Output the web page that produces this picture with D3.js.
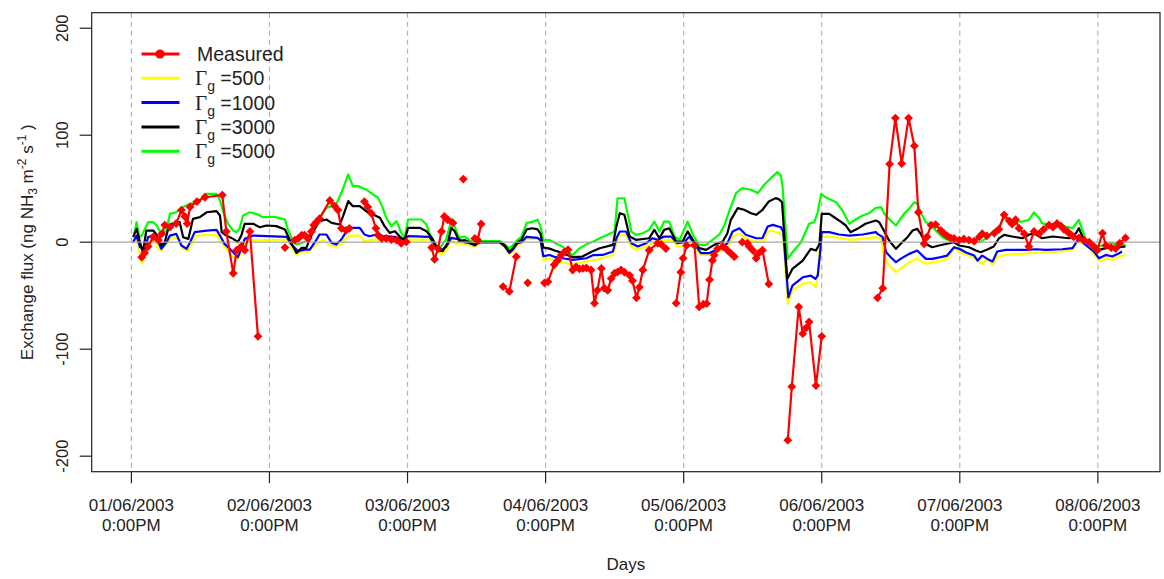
<!DOCTYPE html>
<html>
<head>
<meta charset="utf-8">
<script src="https://cdn.jsdelivr.net/npm/d3@7/dist/d3.min.js"></script>
<style>
  body { margin: 0; background: #fff; }
  svg { display: block; font-family: "Liberation Sans", Arial, sans-serif; }
</style>
</head>
<body>
<svg id="chart" width="1164" height="579"></svg>
<script>
// Time axis: hours after 01/06/2003 12:00
const dayTicks = [0, 24, 48, 72, 96, 120, 144, 168];
const dayLabels = ["01/06/2003", "02/06/2003", "03/06/2003", "04/06/2003",
                   "05/06/2003", "06/06/2003", "07/06/2003", "08/06/2003"];
const timeLabel = "0:00PM";
const fluxTicks = [-200, -100, 0, 100, 200];

// Measured NH3 exchange flux [hour, flux]; null marks a gap in the record
const measured = [
  [1.8,-14],[2.3,-10],[2.9,-4],[3.8,5],[4.7,2],[5.3,8],[5.8,16],[6.7,14],[7.8,17.5],[8.7,30],
  [9.3,24],[9.7,17.5],[10.2,33],[11.4,38],[12.8,42],[15.8,44],[16.5,10],[17.7,-29],[18.3,-7.5],
  [19.1,-4],[19.7,-7.5],[20.6,10],[22.0,-88],
  [24,null],
  [26.7,-5],
  [27.5,null],
  [28.4,2],[29.0,3.5],[29.6,6.6],[30.1,6.6],[30.7,3.5],[31.3,10],[31.7,16],[32.2,19],[32.7,22],
  [34.5,39],[35.3,34],[35.9,30],[36.5,13],[37.3,11],[37.9,13],
  [39,null],
  [40.5,38],[41.1,33],[41.7,27],[42.5,13],[42.9,6.6],[43.5,3.5],[44.3,3.5],[45.2,2.5],[46.1,2],
  [46.9,-1],[47.8,0.3],
  [50,null],
  [52.2,-5],[52.7,-16],[53.3,-6],[53.9,10],[54.4,24],[55.0,21],[55.9,18],
  [57,null],
  [57.7,59],
  [58.5,null],
  [59.7,3.5],[60.2,2],[60.8,17],
  [62,null],
  [64.6,-41.5],[65.7,-46],[66.9,-13.5],
  [68,null],
  [68.9,-38],
  [70,null],
  [71.8,-38],[72.4,-37],[73.5,-21],[74.1,-17],[74.7,-12],[75.3,-9],[75.9,-7],[76.7,-26],[77.3,-23],
  [77.9,-25],[78.5,-24.5],[79.1,-24],[79.9,-26],[80.5,-57],[81.0,-45],[81.7,-24.5],[82.2,-43],
  [82.8,-45],[83.4,-34],[84.0,-29],[84.5,-28],[85.1,-26],[85.7,-28],[86.6,-31],[87.1,-36],
  [87.8,-52],[88.3,-42],[88.9,-26],[90.0,-7.5],[91.5,-1],[92.1,-2],[92.9,-6],
  [93.5,null],
  [94.7,-57],[95.5,-28],[95.9,-15],[96.5,-3],[97.9,-3],[98.7,-60.5],[99.4,-58],[100.0,-57.5],
  [100.5,-35],[101.0,-17],[101.3,-12],[101.9,-6],[102.8,-4],[103.6,-7.5],[104.2,-10.5],[104.8,-13.5],
  [105.5,null],
  [106.2,0],[107.1,-1],[107.4,-4],[108.0,-7.5],[108.6,-15],[109.1,-10],[109.7,-7.5],[110.8,-39],
  [112,null],
  [114.1,-185],[114.8,-135],[116.0,-60.5],[116.7,-85.5],[117.3,-80],[117.8,-74.5],[119.0,-134],[120.0,-88],
  [125,null],
  [129.7,-52],[130.6,-43],[131.8,73],[132.8,116],[133.9,73.5],[135.1,116],[136.1,90],[136.8,28],
  [137.8,-1.5],[138.3,5],[139.0,16],[139.8,16.5],[140.7,11],[141.3,8],[141.8,6],[142.4,4],[143.0,3.5],
  [143.9,2],[144.7,3],[145.6,2],[146.5,1],[147.4,5],[147.9,8],[148.7,6],[150.0,8.4],[150.8,12],
  [151.7,25.6],[152.6,20],[153.1,17],[153.7,21],[154.3,13],[155.2,8],[156.0,-4],[156.9,10],[157.8,8],
  [158.6,12],[159.5,16],[160.2,14],[160.9,17.5],[161.6,15],[162.1,12],[162.7,10],[163.3,7],[163.8,5],
  [164.7,4],[165.6,2],[166.5,0],[167.3,-4],[167.9,-7.5],[168.8,8.4],[169.4,-3],[170.3,-5],[171.1,-6],
  [171.8,-1],[172.8,4]
];

// Modelled flux for stomatal compensation parameter Γg = 500
const gamma500 = [
  [0.3,-1.6],[0.9,3.1],[1.8,-20],[2.3,-14],[2.9,-6.2],[3.8,3.1],[4.7,-6.2],[5.2,-7.8],[6.1,-1.6],
  [7.0,4.7],[8.1,3.1],[9.0,-6.2],[9.9,-7.8],[10.5,-1.6],[11.3,6.2],[14.8,6.9],[15.4,1.6],[16.5,-6.2],
  [17.7,-14],[18.5,-15.6],[19.4,-7.8],[20.0,1.6],[27.0,2.5],[28.7,-11.5],[29.8,-8.4],[30.7,-9.4],
  [32.2,-2.2],[33.3,2.5],[34.5,-3.1],[35.6,-3.7],[36.5,-2.2],[37.1,3.1],[38.2,6.2],[39.7,6.2],
  [40.5,0.9],[42.0,2.5],[44.9,2.5],[46.1,0.9],[48.1,2.5],[51.8,2.5],[53.0,-5.3],[53.9,-11.5],
  [54.7,-8.4],[55.6,2.5],[56.4,-2],[57.0,-1],[57.9,-2],[58.8,-3],[59.7,-4],[60.5,-1],[64.0,0],
  [64.9,-5],[65.7,-11],[66.3,-9],[67.1,-2],[67.8,-1],[68.7,3],[70.6,3],[71.1,1],[71.6,-17],
  [72.7,-15],[73.7,-18],[74.9,-19],[76.7,-21],[79.0,-18],[80.8,-16.5],[82.8,-13.4],[83.7,-11.9],
  [84.3,-0.9],[84.9,6.9],[86.0,6.9],[86.9,-4],[87.7,-7.2],[89.5,-4],[91.2,0.6],[92.9,2.2],[94.0,2.2],
  [94.9,-4],[96.1,-4],[97.0,0.6],[97.8,-4],[99.0,-11.9],[100.4,-11.9],[101.9,-8.7],[103.1,-7.2],
  [103.9,-2.5],[104.5,5.3],[105.7,8],[106.8,3.7],[108.6,0.6],[110.0,0.6],[110.6,10],[111.5,10.5],
  [112.9,7.8],[113.3,4],[114.1,-57.7],[114.9,-45.2],[116.7,-39],[118.1,-37.4],[119.0,-42],
  [119.4,-26.5],[119.8,4.7],[121.3,5.3],[123.0,4],[125.3,2.2],[129.4,4.7],[130.3,3.1],[130.8,-12.5],
  [131.7,-21.8],[132.9,-28],[133.7,-25],[135.2,-18.7],[136.6,-15.6],[138.1,-20.3],[139.2,-18.7],
  [141.0,-17.2],[142.1,-14],[143.0,-4.7],[143.9,-9.4],[145.6,-12.5],[146.8,-15.6],[147.9,-20.3],
  [148.8,-15.6],[149.7,-21.2],[150.5,-13.4],[152.0,-11.9],[156.0,-10.3],[161.8,-8.7],[163.6,-7.2],
  [164.7,2.2],[165.3,-0.9],[166.5,-5.6],[167.6,-13.4],[168.5,-18],[169.4,-15],[170.5,-16.5],
  [171.7,-13.4],[172.8,-11.9]
];

// Γg = 1000
const gamma1000 = [
  [0.3,0],[0.9,6.2],[1.5,-4.7],[2.3,-7.8],[2.9,4.7],[3.8,6.2],[4.7,0],[5.2,-6.2],[6.1,0],[6.7,6.2],
  [7.8,7.8],[8.7,-3.1],[9.6,-6.2],[10.2,0],[11.0,9.4],[13.1,10.9],[14.8,11.5],[15.4,6.2],[16.2,-1.6],
  [17.7,-9.4],[18.5,-14],[19.1,-6.2],[19.7,3.1],[21.2,6.2],[27.0,5],[27.8,-2.2],[29.0,-8.4],
  [30.1,-6.9],[31.0,-6.9],[32.2,2.5],[32.7,7.2],[33.9,7.2],[34.8,-0.6],[35.6,-2.2],[36.5,2.5],
  [37.4,10.3],[38.5,13.4],[39.7,13.4],[40.5,7.2],[41.4,5.6],[42.6,7.2],[43.7,5.6],[45.8,5],[47.2,2.5],
  [48.1,5.6],[51.8,5],[52.7,-2.2],[53.6,-8.4],[54.7,-4.4],[55.6,4],[57.0,2.5],[57.9,0],[58.8,-1],
  [59.7,-3],[60.5,0],[64.0,0],[64.9,-4],[65.7,-10],[66.3,-7],[67.1,-1],[67.8,0],[68.7,5],[70.6,4],
  [71.1,2],[71.6,-13],[72.7,-12],[73.7,-14],[74.9,-15],[76.7,-16.5],[79.1,-15],[80.3,-12],[81.9,-11.9],
  [83.7,-8.7],[84.3,3.7],[84.9,10],[86.0,10],[86.9,-0.9],[88.0,-4],[89.5,-0.9],[90.6,3.7],[91.5,2.2],
  [92.6,5.3],[93.8,5.3],[94.9,-0.9],[96.1,0],[97.0,5.3],[97.8,-1],[99.0,-10.3],[100.4,-10.3],
  [101.6,-7.2],[102.8,-4.7],[103.6,-0.9],[104.5,10],[105.7,13],[106.8,6.9],[108.6,3.7],[109.7,3.7],
  [110.6,14.7],[111.5,16.2],[112.9,14],[113.3,10],[114.2,-51.5],[114.9,-40.6],[116.7,-32.8],
  [118.1,-31.2],[118.9,-34.3],[119.3,-31.2],[119.7,-11],[120.0,9.4],[121.3,9.4],[123.0,7.2],
  [124.8,6.2],[127.1,7.2],[129.4,9.4],[129.7,7.8],[130.6,4.7],[131.2,-9.4],[132.0,-14],[132.9,-18.7],
  [133.7,-15.6],[135.2,-10.9],[136.6,-7.8],[138.1,-15.6],[139.2,-15.6],[140.7,-14],[141.8,-12.5],
  [143.0,-4.7],[143.9,-6.2],[145.0,-9.4],[146.5,-12.5],[147.1,-17.2],[147.9,-12.5],[148.8,-15.6],
  [149.7,-18],[150.5,-8.7],[152.0,-7.2],[155.5,-7.2],[157.2,-6.6],[159.0,-7.2],[161.8,-6.6],
  [163.6,-5.6],[164.7,3.7],[165.3,0],[166.2,-4],[167.3,-8.7],[168.2,-15],[169.4,-11.9],[170.5,-13.4],
  [171.7,-10.3],[172.2,-8.7]
];

// Γg = 3000
const gamma3000 = [
  [0.3,4.7],[0.9,12.5],[1.5,0],[2.0,-9.4],[2.6,10.9],[3.8,10.9],[4.7,4.7],[5.2,-3.1],[5.8,0],
  [6.4,12.5],[7.0,17.2],[8.4,18.7],[9.0,4.7],[9.9,3.1],[10.7,21.8],[11.9,23.4],[13.1,28],[14.8,29],
  [15.4,25],[15.7,9.4],[16.5,6.2],[17.7,3.1],[18.5,0],[19.1,6.2],[19.7,17.2],[21.2,17.2],[22.3,14],
  [23.5,15.6],[25.2,15],[26.7,11.9],[27.5,2.5],[28.7,-10],[29.6,-5.3],[30.4,-5.3],[31.6,10.3],
  [32.7,19.7],[33.9,21.2],[34.8,18.1],[36.2,16.5],[36.8,24.3],[37.7,38.4],[38.5,33.7],[39.7,33.7],
  [40.8,29],[42.0,25.9],[43.2,22.8],[44.0,15],[44.9,8.7],[45.8,10.3],[46.9,4],[47.5,2.5],[48.1,13.4],
  [50.1,13.4],[51.3,10.3],[52.4,2.5],[53.3,-6.9],[54.1,-8.4],[55.0,-0.6],[55.6,13.4],[56.2,10.3],
  [57.0,0.9],[57.9,2],[58.8,0],[59.7,-2.5],[60.5,0],[64.0,0],[64.9,-3],[65.7,-9],[66.3,-6],[67.1,0],
  [67.8,2],[68.7,12],[69.7,13],[70.6,12],[71.1,8],[71.6,-5],[72.7,-6],[73.7,-8],[74.9,-10],
  [76.7,-14],[78.4,-13.4],[80.1,-8.7],[81.4,-5.6],[83.7,-2.5],[84.3,14.7],[84.9,27.1],[85.7,25.6],
  [86.6,5.3],[87.7,2.2],[90.0,3.7],[90.9,11.5],[91.8,3.7],[92.6,11.5],[93.5,13],[94.7,0.6],[95.8,0.6],
  [96.7,10],[97.6,2.2],[98.7,-5.6],[99.9,-7.2],[101.3,-2.5],[102.8,0.6],[103.6,8.4],[104.2,20.9],
  [105.4,31.8],[106.5,30.3],[107.7,27.1],[108.6,25.6],[109.7,30.3],[110.8,38],[112.0,41.2],
  [112.6,40],[113.1,37.4],[114.0,-34.3],[114.9,-25],[116.7,-17.2],[118.1,-6.2],[119.0,-7.8],
  [119.6,-1.6],[120.0,26.5],[121.3,26.5],[123.0,20.3],[124.2,15.6],[125.0,9.4],[126.2,12.5],
  [127.6,17.2],[129.4,20.3],[130.0,18.7],[130.8,10.9],[131.7,1.6],[132.9,-6.2],[133.7,-1.6],
  [134.9,4.7],[135.8,10.9],[136.6,12.5],[137.2,7.8],[138.1,-1.6],[139.2,-4.7],[140.4,-3.1],[143.0,0],
  [143.9,-3.1],[145.6,-4.7],[146.8,-7.8],[147.6,-9.4],[148.7,-7],[149.9,-4],[150.8,3.5],[151.7,6.9],
  [153.1,5.3],[154.9,3.7],[156.0,6.9],[156.9,8.4],[158.3,3.7],[160.1,5.3],[163.0,3.7],[164.2,8.4],
  [164.7,13.1],[165.3,5.3],[166.2,-0.9],[167.3,-4],[168.2,-7.2],[169.4,-5.6],[170.5,-4],[171.7,-4.7],
  [172.8,-4]
];

// Γg = 5000
const gamma5000 = [
  [0.5,7.8],[0.9,18.7],[1.4,4.7],[1.8,6.2],[2.9,18.7],[3.8,18.7],[4.4,15.6],[5.2,7.8],[6.1,10.9],
  [6.7,26.5],[7.8,28],[9.0,32.8],[10.2,35.9],[11.0,37.4],[11.9,39],[12.8,45.2],[14.8,45.2],[15.4,39],
  [15.9,29.6],[16.8,17.2],[17.7,10.9],[18.3,9.4],[18.8,12.5],[19.4,25],[20.6,28],[21.7,26.5],
  [22.9,23.4],[24.1,23.7],[24.9,23.7],[26.7,21.2],[27.2,11.9],[28.1,0.9],[28.7,-2.2],[29.6,-0.6],
  [30.4,0.9],[31.6,8.7],[32.7,22.8],[33.9,32.1],[34.8,33.7],[35.6,35.3],[36.5,46.2],[37.7,63.3],
  [38.5,52.4],[39.4,52.4],[40.8,49.3],[42.0,44.6],[42.9,41.5],[43.7,32.1],[44.3,22.8],[45.2,15],
  [46.1,19.7],[46.9,8.7],[47.5,4],[48.1,21.2],[50.4,21.2],[51.3,16.5],[51.8,8.7],[52.4,2.5],
  [53.0,-5.3],[53.6,-5.3],[54.7,2.5],[55.7,22],[56.5,10.3],[57.0,4],[57.9,5.3],[58.8,2],[59.7,-1],
  [60.5,1],[64.0,1],[64.9,-2],[65.7,-6],[66.3,-3],[67.1,2],[67.8,5],[68.7,18],[69.7,19],[70.6,21],
  [71.1,15],[71.6,2],[72.7,2],[73.7,-1],[74.9,-4],[76.7,-12],[77.9,-5.6],[79.1,-2],[80.3,0.6],
  [81.4,3.7],[82.8,7],[84.0,10],[84.5,41],[85.7,41],[86.3,25.6],[86.9,10],[87.7,6.9],[88.9,8.4],
  [90.0,11.5],[90.9,19.3],[91.8,10],[92.6,19.3],[93.5,19.3],[94.4,5.3],[95.3,2.2],[96.7,19.3],
  [97.6,7],[98.7,-2.5],[99.9,-2.5],[101.0,2.2],[102.2,7],[103.1,16],[103.9,28.7],[105.1,45.9],
  [106.2,50.5],[107.7,49],[108.9,45.9],[110.0,53.7],[111.5,61.5],[112.3,65.5],[112.9,62.4],
  [113.2,51.5],[114.1,-15.6],[114.9,-9.4],[116.4,0],[117.8,17.2],[118.7,18.7],[119.3,28],[119.9,45.2],
  [120.7,42],[122.5,37.4],[123.6,29.6],[124.8,17.2],[125.6,20.3],[127.1,25],[128.2,27],[129.4,32],
  [130.3,32.8],[130.9,26.5],[131.7,21.8],[132.9,15.6],[133.5,20.3],[134.3,26.5],[135.2,31.2],
  [136.1,37.4],[136.6,35.9],[137.2,28],[138.1,18.7],[139.0,15.6],[139.8,10.9],[141.0,4.7],[142.1,1.6],
  [143.9,1.6],[145.0,0],[147.6,0],[148.8,4.7],[149.7,9.4],[150.8,14.7],[151.7,22.5],[152.9,20.9],
  [154.0,19.3],[154.9,19.3],[156.0,20.9],[156.9,27.8],[157.8,22.5],[158.3,17.8],[159.5,16.2],
  [160.7,17.8],[162.4,14.7],[163.6,13.1],[164.7,20.9],[165.3,11.5],[165.9,2.2],[166.7,-0.9],
  [168.2,-4],[170.2,-0.9],[172.2,-2.5],[172.8,-2.5]
];

const legendNames = ["Measured", "500", "1000", "3000", "5000"];
const legendColors = ["#ff0000", "#ffff00", "#0000ff", "#000000", "#00ff00"];

// ---------------------------------------------------------------------------
const svg = d3.select("#chart");
const box = { left: 91.7, right: 1160, top: 12.7, bottom: 471.7 };

const x = d3.scaleLinear().domain([-6.9, 178.8]).range([box.left, box.right]);
const y = d3.scaleLinear().domain([-214.5, 214.5]).range([box.bottom, box.top]);

const plot = svg.append("g");
plot.append("clipPath").attr("id", "clip")
  .append("rect").attr("x", box.left).attr("y", box.top)
  .attr("width", box.right - box.left).attr("height", box.bottom - box.top);

// dashed day grid lines
plot.append("g").selectAll("line").data(dayTicks).join("line")
  .attr("x1", d => x(d)).attr("x2", d => x(d))
  .attr("y1", box.top).attr("y2", box.bottom)
  .attr("stroke", "#b4b4b4").attr("stroke-width", 1.2)
  .attr("stroke-dasharray", "5,4");

const line = d3.line()
  .defined(d => d[1] !== null)
  .x(d => x(d[0])).y(d => y(d[1]));

const series = [
  { data: gamma5000, color: "#00ff00" },
  { data: gamma500, color: "#ffff00" },
  { data: gamma1000, color: "#0000ff" },
  { data: gamma3000, color: "#000000" }
];
const lines = plot.append("g").attr("clip-path", "url(#clip)");
series.forEach(s => {
  lines.append("path").datum(s.data)
    .attr("fill", "none").attr("stroke", s.color)
    .attr("stroke-width", 2.2).attr("stroke-linejoin", "round")
    .attr("d", line);
});

// zero reference line
plot.append("line")
  .attr("x1", box.left).attr("x2", box.right)
  .attr("y1", y(0)).attr("y2", y(0))
  .attr("stroke", "#a8a8a8").attr("stroke-width", 1.3);

// measured flux: line and diamond markers
const red = plot.append("g").attr("clip-path", "url(#clip)");
red.append("path").datum(measured)
  .attr("fill", "none").attr("stroke", "#ff0000")
  .attr("stroke-width", 2.2).attr("stroke-linejoin", "round")
  .attr("d", line);

const diamond = r => `M0,${-r}L${r},0L0,${r}L${-r},0Z`;
red.append("g").selectAll("path")
  .data(measured.filter(d => d[1] !== null)).join("path")
  .attr("transform", d => `translate(${x(d[0])},${y(d[1])})`)
  .attr("d", diamond(4.4)).attr("fill", "#ff0000");

// frame
svg.append("rect")
  .attr("x", box.left).attr("y", box.top)
  .attr("width", box.right - box.left).attr("height", box.bottom - box.top)
  .attr("fill", "none").attr("stroke", "#222").attr("stroke-width", 1.2);

// x axis ticks and two-line labels
const xt = svg.append("g");
xt.selectAll("line").data(dayTicks).join("line")
  .attr("x1", d => x(d)).attr("x2", d => x(d))
  .attr("y1", box.bottom).attr("y2", box.bottom + 11.5)
  .attr("stroke", "#222").attr("stroke-width", 1.2);
const xl = xt.selectAll("text").data(dayTicks).join("text")
  .attr("x", d => x(d)).attr("text-anchor", "middle")
  .attr("font-size", 17).attr("fill", "#222");
xl.append("tspan").attr("x", d => x(d)).attr("y", 510.5).text((d, i) => dayLabels[i]);
xl.append("tspan").attr("x", d => x(d)).attr("y", 530.5).text(timeLabel);

// y axis ticks and rotated labels
const yt = svg.append("g");
yt.selectAll("line").data(fluxTicks).join("line")
  .attr("x1", box.left - 12).attr("x2", box.left)
  .attr("y1", d => y(d)).attr("y2", d => y(d))
  .attr("stroke", "#222").attr("stroke-width", 1.2);
yt.selectAll("text").data(fluxTicks).join("text")
  .attr("transform", d => `translate(68,${y(d)}) rotate(-90)`)
  .attr("text-anchor", "middle").attr("font-size", 16.5).attr("fill", "#222")
  .text(d => d);

// axis titles
svg.append("text").attr("x", (box.left + box.right) / 2).attr("y", 570)
  .attr("text-anchor", "middle").attr("font-size", 17).attr("fill", "#222").text("Days");

const yTitle = svg.append("text")
  .attr("transform", `translate(33,${(box.top + box.bottom) / 2}) rotate(-90)`)
  .attr("text-anchor", "middle").attr("font-size", 17).attr("fill", "#222");
yTitle.append("tspan").text("Exchange flux (ng NH");
yTitle.append("tspan").attr("font-size", 12).attr("dy", 4).text("3");
yTitle.append("tspan").attr("dy", -4).text(" m");
yTitle.append("tspan").attr("font-size", 12).attr("dy", -7).text("-2");
yTitle.append("tspan").attr("dy", 7).text(" s");
yTitle.append("tspan").attr("font-size", 12).attr("dy", -7).text("-1");
yTitle.append("tspan").attr("dy", 7).text(" )");

// legend
const legend = svg.append("g");
legendNames.forEach((name, i) => {
  const ly = 54 + i * 24.3;
  legend.append("line").attr("x1", 141.5).attr("x2", 179.5)
    .attr("y1", ly).attr("y2", ly)
    .attr("stroke", legendColors[i]).attr("stroke-width", 3);
  if (i === 0) {
    legend.append("circle").attr("cx", 160).attr("cy", ly).attr("r", 4.6)
      .attr("fill", legendColors[i]);
    legend.append("text").attr("x", 197).attr("y", ly + 7)
      .attr("font-size", 19.5).attr("fill", "#222").text(name);
  } else {
    const t = legend.append("text").attr("x", 195).attr("y", ly + 7)
      .attr("font-size", 19.5).attr("fill", "#222");
    t.append("tspan").attr("font-family", "'Liberation Serif', 'DejaVu Serif', serif")
      .attr("font-size", 21).text("Γ");
    t.append("tspan").attr("font-size", 14).attr("dy", 6).text("g");
    t.append("tspan").attr("dy", -6).text(" =" + name);
  }
});
</script>
</body>
</html>
